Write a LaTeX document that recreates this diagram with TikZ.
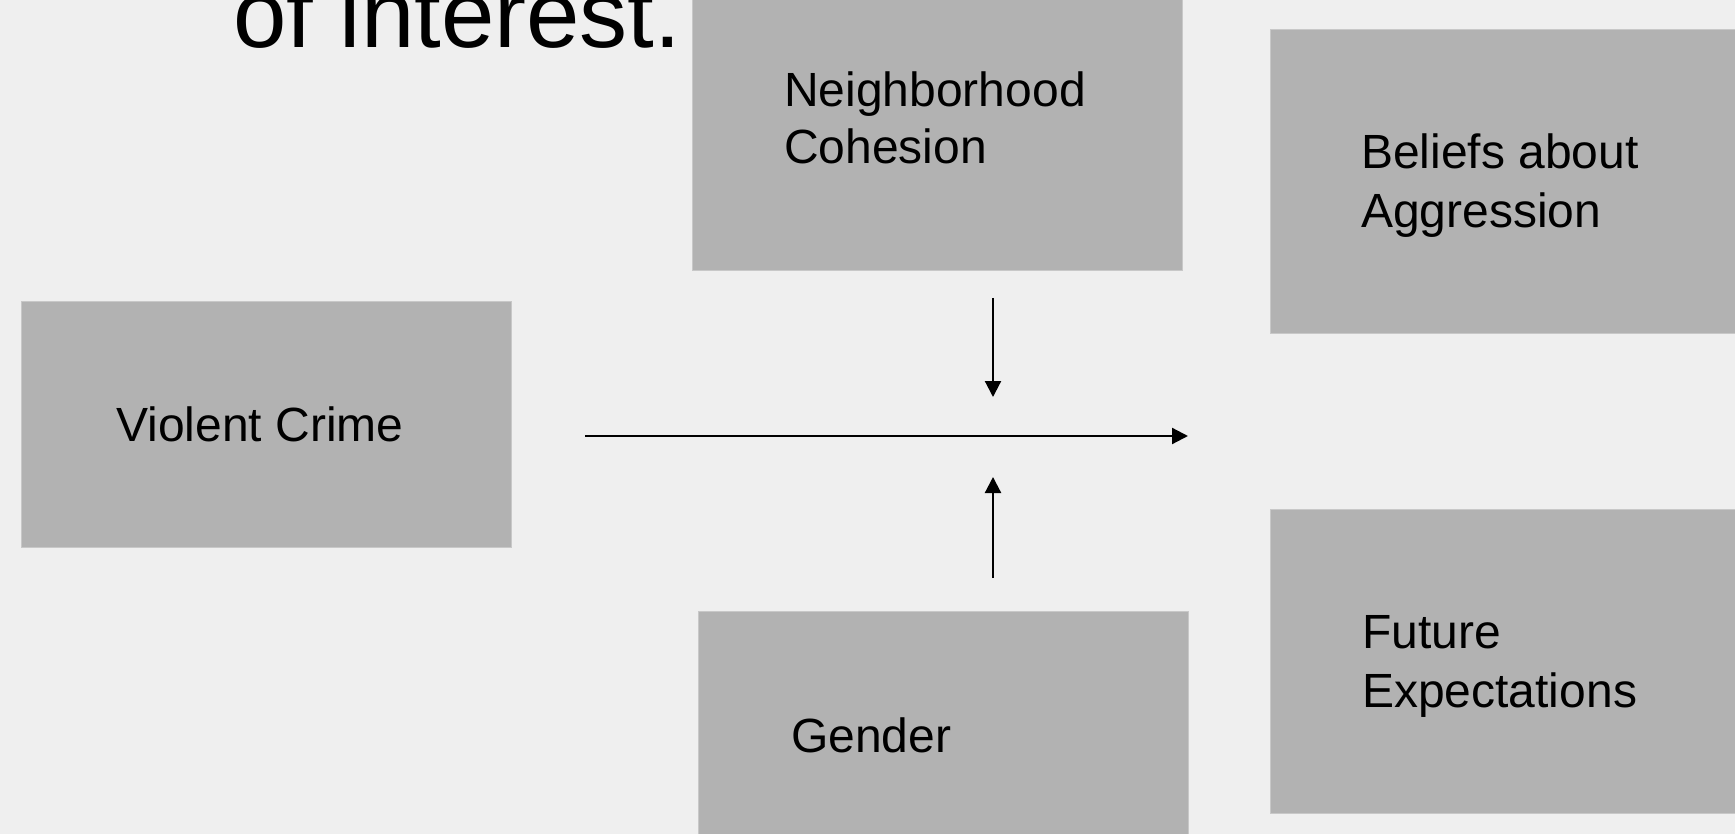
\documentclass[tikz,border=0pt]{standalone}
\usepackage{fontspec}
\setmainfont{Liberation Sans}
\usetikzlibrary{arrows.meta}
\definecolor{bgc}{RGB}{239,239,239}
\definecolor{boxc}{RGB}{178,178,178}
\definecolor{edgec}{RGB}{200,200,200}
\tikzset{
  box/.style={rectangle, fill=boxc, draw=edgec, line width=0.8pt, inner sep=0pt, minimum width=490pt},
  lbl/.style={anchor=base west, inner sep=0pt, font=\fontsize{48}{58}\selectfont, text=black},
  ttl/.style={anchor=base west, inner sep=0pt, font=\fontsize{96}{110}\selectfont, text=black},
  conn/.style={line width=2.2pt, -{Triangle[length=16pt,width=16pt]}}
}
\begin{document}
\begin{tikzpicture}[x=1pt,y=-1pt]
\useasboundingbox (0,0) rectangle (1735,834);
\clip (0,0) rectangle (1735,834);
\fill[bgc] (0,0) rectangle (1735,834);

% boxes
\node[box, minimum height=310pt] (nc) at (937,115) {};
\node[box, minimum height=304pt] (ba) at (1515,181) {};
\node[box, minimum height=246pt] (vc) at (266,424) {};
\node[box, minimum height=269pt] (gd) at (943,745.5) {};
\node[box, minimum height=304pt] (fe) at (1515,661) {};

% title fragment
\node[ttl] (title) at (233,48) {of interest.};

% labels
\node[lbl] (nc1) at (784,107) {Neighborhood};
\node[lbl] (nc2) at (784,163.5) {Cohesion};
\node[lbl] (ba1) at (1361,168.3) {Beliefs about};
\node[lbl] (ba2) at (1361,227.7) {Aggression};
\node[lbl] (vc1) at (116,441.7) {Violent Crime};
\node[lbl] (gd1) at (791,752) {Gender};
\node[lbl] (fe1) at (1362,648.3) {Future};
\node[lbl] (fe2) at (1362,707.3) {Expectations};

% connectors
\coordinate (hs) at (585,436);
\coordinate (he) at (1188,436);
\coordinate (ds) at (993,298);
\coordinate (de) at (993,397);
\coordinate (us) at (993,578);
\coordinate (ue) at (993,477);
\draw[conn] (hs) -- (he);
\draw[conn] (ds) -- (de);
\draw[conn] (us) -- (ue);
\end{tikzpicture}
\end{document}
